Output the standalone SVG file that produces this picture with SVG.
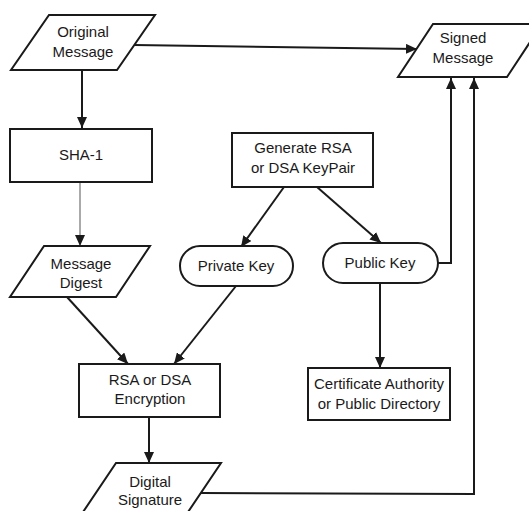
<svg xmlns="http://www.w3.org/2000/svg" width="529" height="511" viewBox="0 0 529 511">
<style>
.shape{fill:#fff;stroke:#1a1a1a;stroke-width:2}
.lbl{font-family:"Liberation Sans",Arial,sans-serif;font-size:15px;fill:#1a1a1a;text-anchor:middle}
.conn{fill:none;stroke:#1a1a1a;stroke-width:2}
.faint{stroke:#aaa}
</style>
<defs>
<marker id="ah" markerUnits="userSpaceOnUse" markerWidth="11" markerHeight="10" refX="11" refY="5" orient="auto">
<path d="M0,0 L11,5 L0,10 z" fill="#1a1a1a"/>
</marker>
</defs>
<rect width="529" height="511" fill="#fff"/>
<g id="connectors">
<line class="conn" x1="82" y1="70" x2="82" y2="128" marker-end="url(#ah)"/>
<line class="conn" x1="134" y1="45" x2="417" y2="49" marker-end="url(#ah)"/>
<line class="conn faint" x1="80" y1="182" x2="80" y2="246" marker-end="url(#ah)"/>
<line class="conn" x1="284" y1="187" x2="241" y2="247" marker-end="url(#ah)"/>
<line class="conn" x1="317" y1="187" x2="381" y2="243" marker-end="url(#ah)"/>
<line class="conn" x1="67" y1="297" x2="128" y2="364" marker-end="url(#ah)"/>
<line class="conn" x1="236" y1="286" x2="174" y2="364" marker-end="url(#ah)"/>
<line class="conn" x1="149" y1="417" x2="149" y2="463" marker-end="url(#ah)"/>
<line class="conn" x1="380" y1="283" x2="380" y2="368" marker-end="url(#ah)"/>
<polyline class="conn" points="438,263 451,263 451,78" marker-end="url(#ah)"/>
<polyline class="conn" points="201,493 474,494 474,78" marker-end="url(#ah)"/>
</g>
<g id="original-message">
<polygon class="shape" points="49,15 155,15 117,70 11,70"/>
<text class="lbl" x="83" y="37">Original</text>
<text class="lbl" x="83" y="57">Message</text>
</g>
<g id="signed-message">
<polygon class="shape" points="433,24 542,24 507,77 398,77"/>
<text class="lbl" x="463" y="43">Signed</text>
<text class="lbl" x="463" y="63">Message</text>
</g>
<g id="sha1">
<rect class="shape" x="10" y="129" width="142" height="53"/>
<text class="lbl" x="81" y="160">SHA-1</text>
</g>
<g id="generate-keypair">
<rect class="shape" x="232" y="133" width="141" height="54"/>
<text class="lbl" x="303" y="153">Generate RSA</text>
<text class="lbl" x="303" y="173">or DSA KeyPair</text>
</g>
<g id="message-digest">
<polygon class="shape" points="44,246 150,246 116,297 10,297"/>
<text class="lbl" x="81" y="269">Message</text>
<text class="lbl" x="81" y="288">Digest</text>
</g>
<g id="private-key">
<rect class="shape" x="180" y="246" width="113" height="40" rx="20" ry="20"/>
<text class="lbl" x="236" y="271">Private Key</text>
</g>
<g id="public-key">
<rect class="shape" x="323" y="243" width="115" height="40" rx="20" ry="20"/>
<text class="lbl" x="380" y="268">Public Key</text>
</g>
<g id="rsa-encryption">
<rect class="shape" x="79" y="364" width="141" height="53"/>
<text class="lbl" x="150" y="385">RSA or DSA</text>
<text class="lbl" x="150" y="404">Encryption</text>
</g>
<g id="certificate-authority">
<rect class="shape" x="308" y="368" width="142" height="52"/>
<text class="lbl" x="379" y="389">Certificate Authority</text>
<text class="lbl" x="379" y="409">or Public Directory</text>
</g>
<g id="digital-signature">
<polygon class="shape" points="116,463 221,463 184,518 79,518"/>
<text class="lbl" x="150" y="487">Digital</text>
<text class="lbl" x="150" y="505">Signature</text>
</g>
</svg>
